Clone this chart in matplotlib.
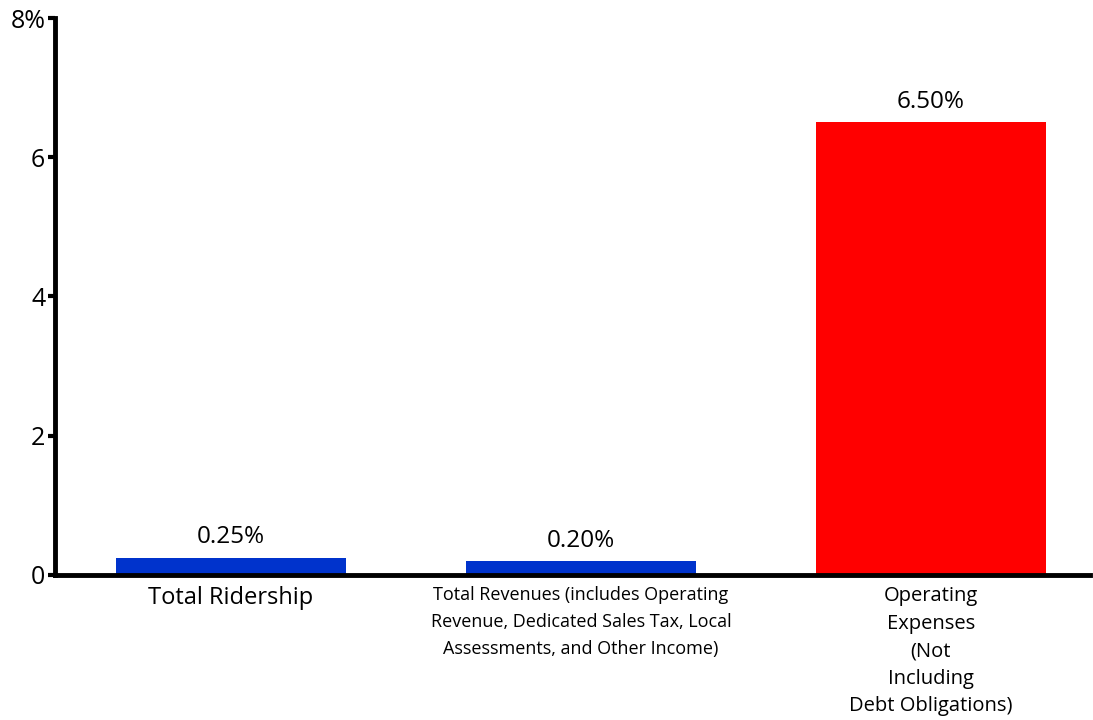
import matplotlib
matplotlib.use("Agg")
import matplotlib.pyplot as plt

plt.rcParams['font.family'] = ['Open Sans', 'DejaVu Sans']

# данные с картинки
categories = ["Total Ridership",
              "Total Revenues (includes Operating\nRevenue, Dedicated Sales Tax, Local\nAssessments, and Other Income)",
              "Operating\nExpenses\n(Not\nIncluding\nDebt Obligations)"]
values = [0.25, 0.20, 6.50]
value_labels = ["0.25%", "0.20%", "6.50%"]
colors = ["#0033cc", "#0033cc", "#ff0000"]
y_ticks = [0, 2, 4, 6, 8]
y_tick_labels = ["0", "2", "4", "6", "8%"]

fig = plt.figure(figsize=(10.93, 7.2), dpi=100)
ax = fig.add_axes([0.0503, 0.2014, 0.9467, 0.7736])

x = list(range(len(categories)))
ax.bar(x, values, width=0.657, color=colors)

for xi, v, lab in zip(x, values, value_labels):
    ax.annotate(lab, (xi, v), xytext=(0, 6), textcoords="offset points",
                ha="center", va="bottom", fontsize=17.5)

ax.set_xlim(-0.503, 2.454)
ax.set_ylim(0, 8)
ax.set_yticks(y_ticks)
ax.set_yticklabels(y_tick_labels, fontsize=18)
ax.set_xticks(x)
ax.set_xticklabels(categories)
labels = ax.get_xticklabels()
labels[0].set_fontsize(17)
labels[1].set_fontsize(13)
labels[1].set_linespacing(1.65)
labels[2].set_fontsize(14.5)
labels[2].set_linespacing(1.5)

ax.tick_params(axis="x", length=0, pad=8)
ax.tick_params(axis="y", length=5, width=3, direction="out", pad=2)

for side in ["top", "right"]:
    ax.spines[side].set_visible(False)
for side in ["left", "bottom"]:
    ax.spines[side].set_linewidth(3.5)

fig.savefig("out.png", dpi=100)
